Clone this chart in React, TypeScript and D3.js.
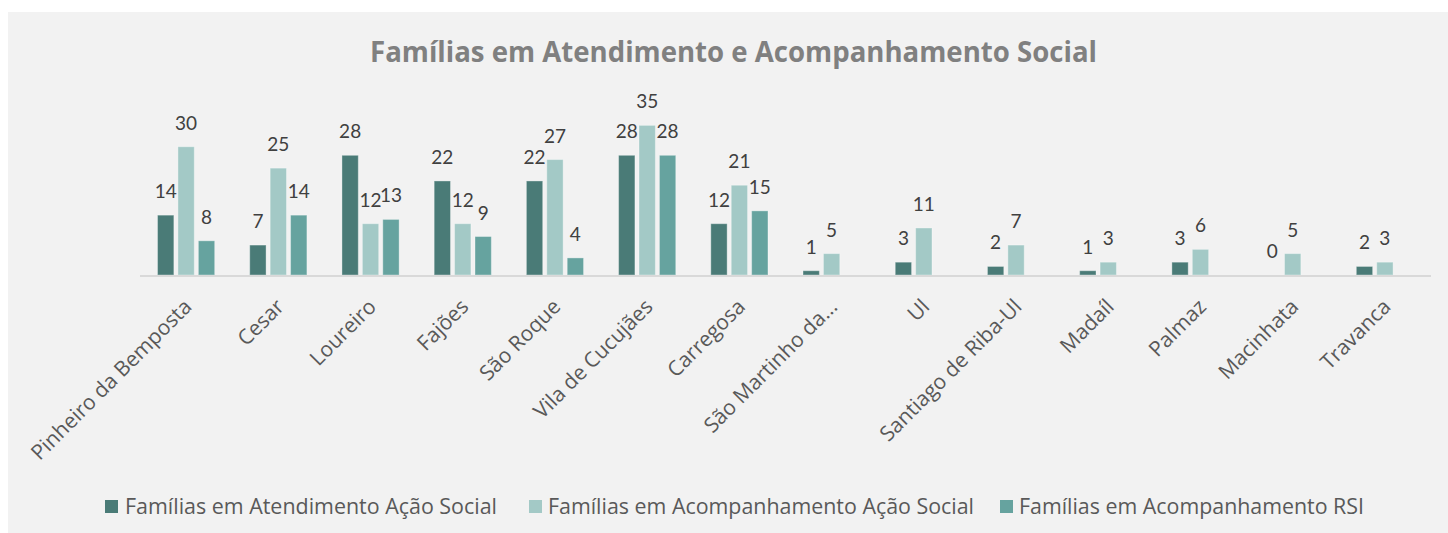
import React from 'react';
import * as d3 from 'd3';

const categories = [
  "Pinheiro da Bemposta", "Cesar", "Loureiro", "Fajões", "São Roque", "Vila de Cucujães",
  "Carregosa", "São Martinho da...", "Ul", "Santiago de Riba-Ul", "Madaíl", "Palmaz",
  "Macinhata", "Travanca",
];
const atendimentoAS = [14, 7, 28, 22, 22, 28, 12, 1, 3, 2, 1, 3, 0, 2];
const acompanhamentoAS = [30, 25, 12, 12, 27, 35, 21, 5, 11, 7, 3, 6, 5, 3];
const acompanhamentoRSI = [8, 14, 13, 9, 4, 28, 15, null, null, null, null, null, null, null];

const seriesNames = [
  "Famílias em Atendimento Ação Social",
  "Famílias em Acompanhamento Ação Social",
  "Famílias em Acompanhamento RSI",
];
const seriesValues = [atendimentoAS, acompanhamentoAS, acompanhamentoRSI];
const colors = ["#4a7b77", "#a3c9c6", "#66a39f"];

// legend layout (x of swatch, x of text, text width)
const legendPos = [
  { sx: 105, tx: 125, w: 372 },
  { sx: 529, tx: 548, w: 426 },
  { sx: 1000, tx: 1019, w: 345 },
];

const W = 1448;
const H = 533;

export default function App() {
  const x0 = d3.scaleBand<string>()
    .domain(categories)
    .range([140, 1431])
    .paddingInner(0.38)
    .paddingOuter(0.19);

  const x1 = d3.scaleBand<number>()
    .domain([0, 1, 2])
    .range([0, x0.bandwidth()])
    .paddingInner(0.2);

  const y = d3.scaleLinear().domain([0, 40]).range([275, 104]);

  const labelFont = "Lato, 'Open Sans', sans-serif";
  const textFont = "'Open Sans', sans-serif";

  return (
    <svg width={W} height={H} style={{ position: 'absolute', left: 0, top: 0 }}>
      <rect x={8} y={12} width={W - 8} height={H - 12} fill="#f2f2f2" />

      <text x={370} y={62} fontFamily={textFont} fontWeight="bold" fontSize={28}
        fill="#808080" textLength={727} lengthAdjust="spacingAndGlyphs">
        Famílias em Atendimento e Acompanhamento Social
      </text>

      {/* barras */}
      {categories.map((c, i) => (
        <g key={c} transform={`translate(${x0(c)},0)`}>
          {seriesValues.map((vals, s) => {
            const v = vals[i];
            if (v === null || v === undefined) return null;
            const bx = x1(s)!;
            return (
              <g key={s}>
                {v > 0 && (
                  <rect x={bx} y={y(v)} width={x1.bandwidth()} height={y(0) - y(v)}
                    fill={colors[s]} stroke="rgba(255,255,255,0.35)" strokeWidth={1} />
                )}
                <text x={bx + x1.bandwidth() / 2} y={y(v) - 17} textAnchor="middle"
                  fontFamily={labelFont} fontSize={19} fill="#404040">
                  {v}
                </text>
              </g>
            );
          })}
        </g>
      ))}

      {/* eixo */}
      <line x1={140} x2={1431} y1={276} y2={276} stroke="#d9d9d9" strokeWidth={2} />

      {categories.map(c => {
        const cx = x0(c)! + x0.bandwidth() / 2 + 7;
        return (
          <text key={c} transform={`translate(${cx},308) rotate(-45)`} textAnchor="end"
            fontFamily={textFont} fontSize={21} fill="#595959">
            {c}
          </text>
        );
      })}

      {/* legenda */}
      {seriesNames.map((n, s) => (
        <g key={n}>
          <rect x={legendPos[s].sx} y={500} width={13} height={13} fill={colors[s]} />
          <text x={legendPos[s].tx} y={514} fontFamily={textFont} fontSize={21} fill="#595959"
            textLength={legendPos[s].w} lengthAdjust="spacingAndGlyphs">
            {n}
          </text>
        </g>
      ))}
    </svg>
  );
}
